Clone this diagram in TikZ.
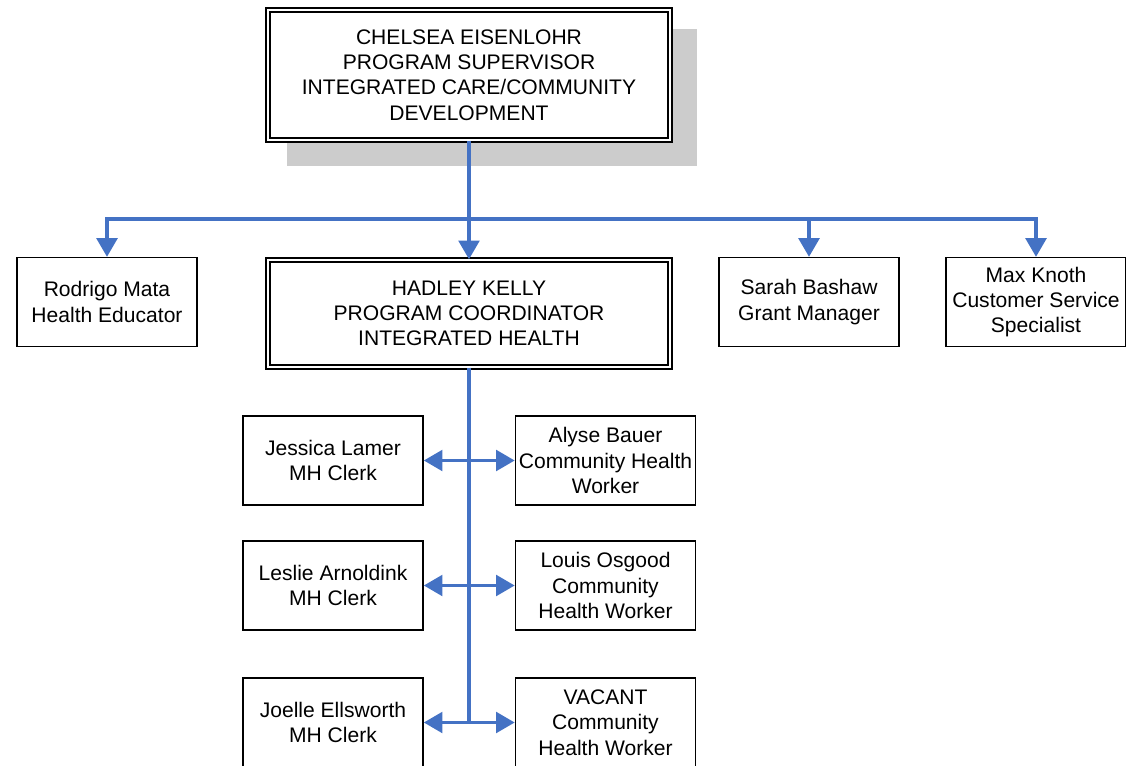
\documentclass[tikz,border=0pt]{standalone}
\usepackage{fontspec}
\setmainfont{Liberation Sans}
\usepackage{tikz}
\usetikzlibrary{arrows.meta}
\usetikzlibrary{backgrounds}
\definecolor{linkblue}{HTML}{4472C4}

\begin{document}
\begin{tikzpicture}[x=0.75pt, y=-0.75pt,
    person/.style={draw, line width=1.2pt, align=center, inner sep=1pt,
      minimum width=135pt, minimum height=66.5pt,
      font=\fontsize{15.8}{19}\selectfont},
    lead/.style={person, double, line width=1.1pt, double distance=2.2pt,
      minimum width=301.5pt},
    link/.style={draw=linkblue, line width=2.6pt},
    down/.style={link, -{Triangle[length=14pt, width=15.5pt]}},
    both/.style={link, {Triangle[length=14pt, width=15.5pt]}-{Triangle[length=14pt, width=15.5pt]}}]
         \useasboundingbox (0,0) rectangle (1126,766);
         \node[lead, minimum height=97.5pt, fill=white] (sup) at (469,75) {CHELSEA EISENLOHR\\PROGRAM SUPERVISOR\\INTEGRATED CARE/COMMUNITY\\DEVELOPMENT};
         \node[lead, minimum height=80.25pt] (hk) at (469,313.5) {HADLEY KELLY\\PROGRAM COORDINATOR\\INTEGRATED HEALTH};
         \node[person] (rm) at (107,302) {Rodrigo Mata\\Health Educator};
         \node[person] (sb) at (809,302) {Sarah Bashaw\\Grant Manager};
         \node[person] (mk) at (1036,302) {Max Knoth\\Customer Service\\Specialist};
         \node[person] (jl) at (333,460.5) {Jessica Lamer\\MH Clerk};
         \node[person] (ab) at (605.5,460.5) {Alyse Bauer\\Community Health\\Worker};
         \node[person] (la) at (333,585.5) {Leslie Arnoldink\\MH Clerk};
         \node[person] (lo) at (605.5,585.5) {Louis Osgood\\Community\\Health Worker};
         \node[person] (je) at (333,722.5) {Joelle Ellsworth\\MH Clerk};
         \node[person] (vc) at (605.5,722.5) {VACANT\\Community\\Health Worker};
         % grey shadow behind the supervisor box
         \begin{scope}[on background layer]
            \fill[black!20] ([shift={(20,20)}]sup.north west) rectangle ([shift={(26,25.5)}]sup.south east);
         \end{scope}
         \coordinate (bus) at (469,219);
         \coordinate (stem) at (469,722.5);
         \draw[link] (sup) -- (bus);
         \draw[down] (bus) -| (rm.north);
         \draw[down] (bus) -- (hk.north);
         \draw[down] (bus) -| (sb.north);
         \draw[down] (bus) -| (mk.north);
         \draw[link] (hk) -- (stem);
         \draw[both] (jl.east) -- (ab.west);
         \draw[both] (la.east) -- (lo.west);
         \draw[both] (je.east) -- (vc.west);
    \end{tikzpicture}
\end{document}
